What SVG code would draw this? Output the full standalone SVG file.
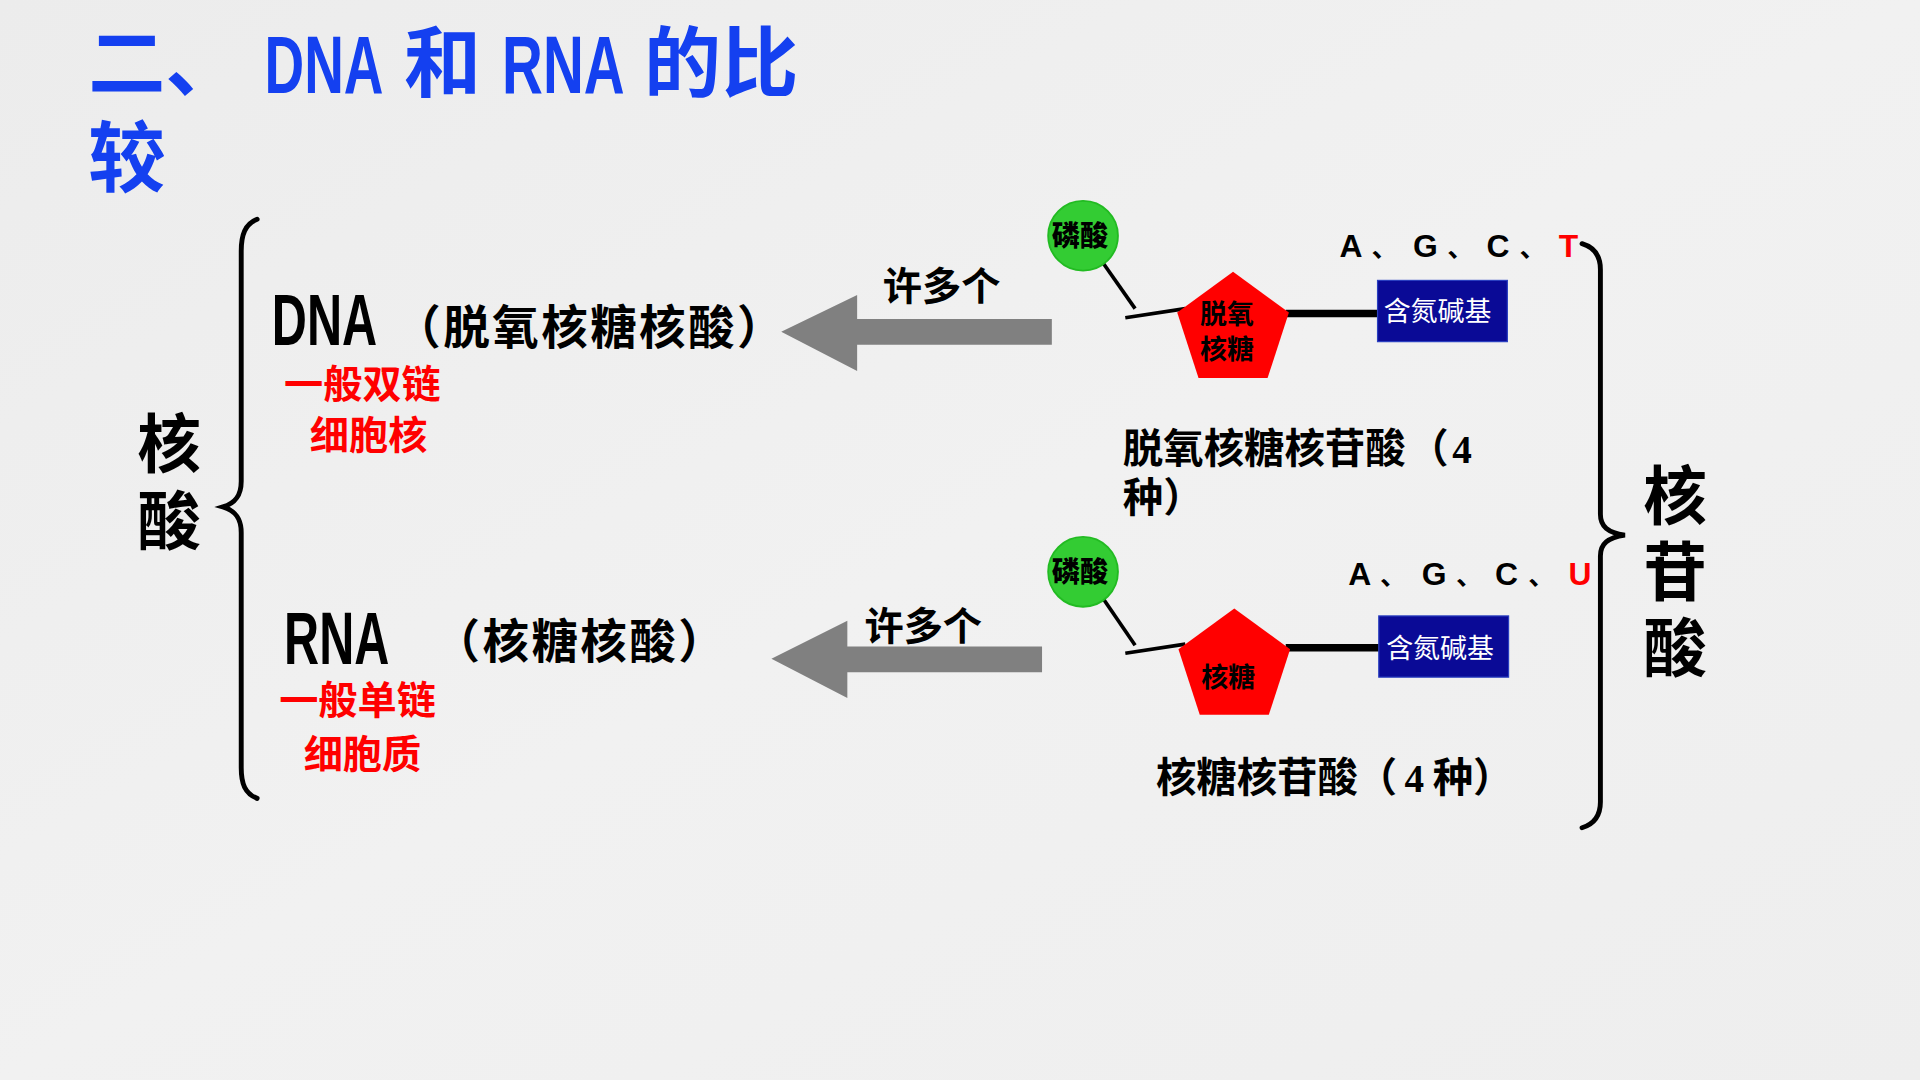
<svg xmlns="http://www.w3.org/2000/svg" width="1920" height="1080" viewBox="0 0 1920 1080">
<defs>
<linearGradient id="bg" x1="0" y1="0" x2="1" y2="1">
<stop offset="0" stop-color="#ececec"/>
<stop offset="0.5" stop-color="#f1f1f1"/>
<stop offset="1" stop-color="#eeeeee"/>
</linearGradient>
</defs>
<style>
.cjk{font-family:"Noto Sans CJK SC","Noto Sans",sans-serif;font-weight:700}
.lat{font-family:"Liberation Sans",Arial,sans-serif;font-weight:700}
.title{fill:#1440f0}
.blk{fill:#000}
.red{fill:#ff0000}
.base{font-family:"Liberation Sans",Arial,sans-serif;font-weight:700;font-size:26px;fill:#000}
.dun{font-family:"Noto Sans CJK SC",sans-serif;font-weight:700;font-size:22px;fill:#000}
.ser{font-family:"Liberation Serif","Times New Roman",serif;font-weight:700}
.brace{fill:none;stroke:#000;stroke-width:4;stroke-linecap:round}
.arrow{fill:#808080}
.thin{stroke:#000;stroke-width:3;fill:none}
.thick{stroke:#000;stroke-width:6;fill:none}
.phos{fill:#33cc33;stroke:#22bb22;stroke-width:1.5}
.sugar{fill:#ff0000}
.nbox{fill:#0a0a96;stroke:#2a3fc0;stroke-width:1}
.ntext{font-family:"Noto Sans CJK SC",sans-serif;font-weight:400;font-size:22px;fill:#fff}
.small{font-family:"Noto Sans CJK SC",sans-serif;font-weight:900;font-size:23px;fill:#000}
</style>
<rect x="0" y="0" width="1920" height="1080" fill="url(#bg)"/>
<g transform="scale(1.22449)">
<g id="title" class="cjk title">
<text font-size="63"><tspan x="72" y="74">二、</tspan><tspan x="72" y="152">较</tspan></text>
<text class="lat" transform="translate(216,76) scale(0.68,1)" x="0" y="0" font-size="66">DNA</text>
<text x="330" y="74" font-size="63">和</text>
<text class="lat" transform="translate(410,76) scale(0.70,1)" x="0" y="0" font-size="66">RNA</text>
<text x="526" y="74" font-size="63">的比</text>
</g>

<g id="connectors">
<polygon class="arrow" points="638,271 700,241 700,260.5 859,260.5 859,281.5 700,281.5 700,303"/>
<polygon class="arrow" points="630,538 692,507 692,528 851,528 851,549 692,549 692,570"/>
<line class="thin" x1="901" y1="215" x2="927" y2="252"/>
<line class="thin" x1="919" y1="259.5" x2="968" y2="252"/>
<line class="thick" x1="1050" y1="256" x2="1126" y2="256"/>
<line class="thin" x1="901" y1="489" x2="927" y2="527"/>
<line class="thin" x1="919" y1="533.5" x2="968" y2="526"/>
<line class="thick" x1="1050" y1="529" x2="1127" y2="529"/>
</g>

<g id="brace-left">
<path class="brace" d="M 210 179 C 200 183, 197 192, 197 205 L 197 393 C 197 405, 192 411, 182 414 C 192 417, 197 423, 197 435 L 197 627 C 197 640, 200 648, 210 652"/>
</g>
<g id="label-hesuan" class="cjk blk">
<text font-size="52"><tspan x="112" y="381">核</tspan><tspan x="112" y="444">酸</tspan></text>
</g>

<g id="dna" class="cjk blk">
<text class="lat" transform="translate(222,282) scale(0.673,1)" x="0" y="0" font-size="59">DNA</text>
<text x="322" y="281" font-size="38" letter-spacing="2">（脱氧核糖核酸）</text>
</g>
<g id="dna-notes" class="cjk red">
<text font-size="32"><tspan x="232" y="325">一般双链</tspan><tspan x="253" y="367">细胞核</tspan></text>
</g>
<g id="rna" class="cjk blk">
<text class="lat" transform="translate(232,542) scale(0.65,1)" x="0" y="0" font-size="61">RNA</text>
<text x="354" y="537" font-size="38" letter-spacing="2">（核糖核酸）</text>
</g>
<g id="rna-notes" class="cjk red">
<text font-size="32"><tspan x="228" y="583">一般单链</tspan><tspan x="248" y="627">细胞质</tspan></text>
</g>

<g id="label-many-top" class="cjk blk"><text x="721" y="245" font-size="32">许多个</text></g>
<g id="label-many-bottom" class="cjk blk"><text x="706" y="523" font-size="32">许多个</text></g>

<g id="phosphate-top">
<circle class="phos" cx="884.5" cy="192.5" r="28.5"/>
<text class="small" x="882" y="200.5" text-anchor="middle">磷酸</text>
</g>
<g id="sugar-top">
<polygon class="sugar" points="1007,222 1052.6,255.2 1035.2,308.8 978.8,308.8 961.4,255.2"/>
<text class="dun" text-anchor="middle"><tspan x="1002" y="265">脱氧</tspan><tspan x="1002" y="293">核糖</tspan></text>
</g>
<g id="base-top">
<rect class="nbox" x="1125" y="229" width="106" height="50"/>
<text class="ntext" x="1174" y="262" text-anchor="middle">含氮碱基</text>
</g>
<g id="bases-dna">
<text class="base" x="1094" y="210">A</text>
<text class="dun" x="1120" y="210">、</text>
<text class="base" x="1154" y="210">G</text>
<text class="dun" x="1182" y="210">、</text>
<text class="base" x="1214" y="210">C</text>
<text class="dun" x="1241" y="210">、</text>
<text class="base" x="1273" y="210" style="fill:#ff0000">T</text>
</g>
<g id="label-deoxy" class="cjk blk">
<text font-size="33"><tspan x="917" y="378">脱氧核糖核苷酸</tspan><tspan x="1150" y="378">（</tspan><tspan class="ser" x="1186" y="378" font-size="32">4</tspan><tspan x="917" y="418">种）</tspan></text>
</g>

<g id="phosphate-bottom">
<circle class="phos" cx="884.5" cy="467" r="28.5"/>
<text class="small" x="882" y="475" text-anchor="middle">磷酸</text>
</g>
<g id="sugar-bottom">
<polygon class="sugar" points="1008,497 1053.6,530.2 1036.2,583.8 979.8,583.8 962.4,530.2"/>
<text class="dun" x="1003" y="561" text-anchor="middle">核糖</text>
</g>
<g id="base-bottom">
<rect class="nbox" x="1126" y="503" width="106" height="50"/>
<text class="ntext" x="1176" y="537" text-anchor="middle">含氮碱基</text>
</g>
<g id="bases-rna">
<text class="base" x="1101" y="478">A</text>
<text class="dun" x="1127" y="478">、</text>
<text class="base" x="1161" y="478">G</text>
<text class="dun" x="1189" y="478">、</text>
<text class="base" x="1221" y="478">C</text>
<text class="dun" x="1248" y="478">、</text>
<text class="base" x="1281" y="478" style="fill:#ff0000">U</text>
</g>
<g id="label-ribo" class="cjk blk">
<text font-size="33"><tspan x="944" y="647">核糖核苷酸</tspan><tspan x="1108" y="647">（</tspan><tspan class="ser" x="1147" y="647" font-size="32">4</tspan><tspan x="1170" y="647">种）</tspan></text>
</g>

<g id="brace-right">
<path class="brace" d="M 1292 199 C 1302 202, 1307 209, 1307 220 L 1307 420 C 1307 430, 1313 435, 1327 437 C 1313 439, 1307 444, 1307 454 L 1307 655 C 1307 666, 1302 673, 1292 676"/>
</g>
<g id="label-hegansuan" class="cjk blk">
<text font-size="52"><tspan x="1342" y="424">核</tspan><tspan x="1342" y="486">苷</tspan><tspan x="1342" y="548">酸</tspan></text>
</g>
</g>
</svg>
